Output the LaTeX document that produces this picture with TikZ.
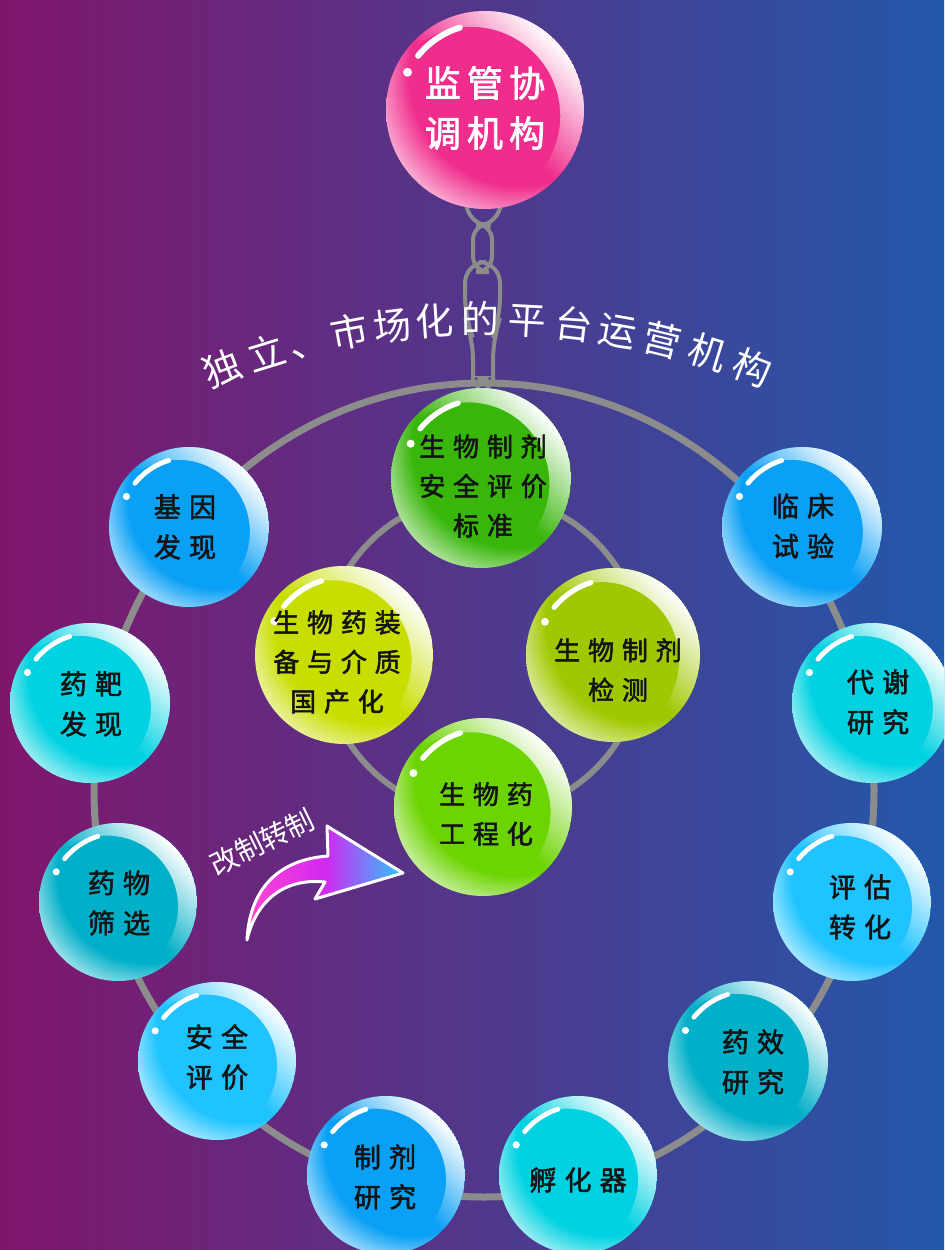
\documentclass[tikz,border=0pt]{standalone}
\usepackage{fontspec}
\usetikzlibrary{fadings,shadings}
\newfontfamily\cjkb[FakeBold=2]{Noto Sans CJK SC}
\newfontfamily\cjkr{Noto Sans CJK SC}
\tikzfading[name=glare, top color=transparent!0, bottom color=transparent!100, middle color=transparent!100]
\definecolor{bgL}{RGB}{128,22,108}
\definecolor{bgM}{RGB}{82,52,138}
\definecolor{bgR}{RGB}{35,88,170}
\definecolor{ringgray}{RGB}{140,140,140}
\definecolor{cPink}{RGB}{240,45,140}
\definecolor{cGreen}{RGB}{56,182,10}
\definecolor{cYel}{RGB}{200,222,0}
\definecolor{cOlive}{RGB}{160,200,0}
\definecolor{cLime}{RGB}{108,212,0}
\definecolor{cBlue}{RGB}{10,160,245}
\definecolor{cCyan}{RGB}{0,210,225}
\definecolor{cTeal}{RGB}{0,175,200}
\definecolor{cSky}{RGB}{30,195,255}
\definecolor{txt}{RGB}{20,20,20}
\newcommand\g{\hspace{0.3em}}
\newcommand\gp{\hspace{0.17em}}
\newcommand\gball[4]{%
\pgfdeclareradialshading{gb#4}{\pgfpoint{20bp}{20bp}}{color(0bp)=(#4); color(28bp)=(#4); color(35bp)=(#4!30!white); color(50bp)=(#4!30!white)}%
\begin{scope}[shift={(#1,#2)}]
 \shade[shading=gb#4] (0,0) circle[radius=#3];
 \begin{scope}
  \clip (0,0) circle[radius=#3];
  \fill[white, even odd rule, path fading=glare, fading angle=-45] (0,0) circle[radius=#3] ({-0.14*#3},{0.06*#3}) circle[radius={0.9*#3}];
 \end{scope}
 \draw[white, line cap=round, line width={0.0012cm*#3}] (-141:{0.87*#3}) arc[start angle=-141, end angle=-107, radius={0.87*#3}];
 \fill[white] (-154:{0.87*#3}) circle[radius={0.045*#3}];
\end{scope}}
\tikzset{
 chain/.style={draw=ringgray, line width=0.08cm},
 ring/.style={draw=ringgray, line width=0.14cm},
 outer/.style={align=center, inner sep=0pt, text=txt, font=\cjkb\fontsize{15.4}{22.8}\selectfont},
 inner/.style={align=center, inner sep=0pt, text=txt, font=\cjkb\fontsize{14.8}{22.5}\selectfont},
 arctext/.style={inner sep=0pt, text=white, text height=0.88em, text depth=0.12em, font=\cjkr\fontsize{21.6}{24}\selectfont}
}
\begin{document}
\begin{tikzpicture}[x=0.02cm, y=-0.02cm]
\clip (0,0) rectangle (944,1250);
\shade[left color=bgL, middle color=bgM, right color=bgR] (0,0) rectangle (944,1250);
% chain
\draw[chain, rounded corners=14] (466,170) -- (466,226) -- (501,226) -- (501,170);
\draw[chain, rounded corners=9] (473,224) rectangle (492,272);
\draw[chain, rounded corners=12] (473,386) -- (473,338) -- (465,318) -- (465,262) -- (500,262) -- (500,318) -- (493,338) -- (493,386);
\draw[chain, rounded corners=3] (478,378) rectangle (488,396);
% rings
\draw[ring] (484,790) ellipse[x radius=390, y radius=407];
\draw[ring, line width=0.12cm] (483,655) circle[radius=160];
% title on arc
\foreach \c/\a [count=\i] in {独/-20.8, 立/-17.2, 、/-13.9, 市/-10.6, 场/-7.3, 化/-4.0, 的/-0.5, 平/3.1, 台/6.7, 运/10.1, 营/13.6, 机/17.2, 构/20.8}
  \node[arctext, rotate=-\a] (t\i) at ({487+739*sin(\a)},{1066-739*cos(\a)}) {\c};
% arrow
\draw[white, line width=0.06cm, line join=round, left color={rgb,255:red,255;green,70;blue,210}, right color={rgb,255:red,40;green,200;blue,255}, middle color={rgb,255:red,210;green,40;blue,240}]
 (247,940) .. controls (249,896) and (272,860) .. (328,856) -- (327,826) -- (403,873) -- (315,899) -- (325,882) .. controls (288,878) and (257,897) .. (247,940) -- cycle;
\node[rotate=26, inner sep=0pt, text=white, font=\cjkr\fontsize{16}{18}\selectfont] (lbl) at (262,842) {改制转制};
% top ball
\gball{485}{110}{99}{cPink}
\node[align=center, inner sep=0pt, text=white, font=\cjkb\fontsize{20.5}{28.5}\selectfont] (top) at (485,108) {监\gp 管\gp 协\\调\gp 机\gp 构};
% inner balls
\gball{481}{478}{90}{cGreen}
\node[inner] (i1) at (483,486) {生\g 物\g 制\g 剂\\安\g 全\g 评\g 价\\标\g 准};
\gball{344}{655}{89}{cYel}
\node[inner] (i2) at (337,662) {生\g 物\g 药\g 装\\备\g 与\g 介\g 质\\国\g 产\g 化};
\gball{613}{655}{87}{cOlive}
\node[inner] (i3) at (618,670) {生\g 物\g 制\g 剂\\检\g 测};
\gball{483}{807}{89}{cLime}
\node[inner] (i4) at (486,814) {生\g 物\g 药\\工\g 程\g 化};
% outer balls
\gball{189}{527}{80}{cBlue}
\node[outer] (o1) at (185,527) {基\g 因\\发\g 现};
\gball{90}{703}{80}{cCyan}
\node[outer] (o2) at (91,704) {药\g 靶\\发\g 现};
\gball{118}{902}{79}{cTeal}
\node[outer] (o3) at (119,903) {药\g 物\\筛\g 选};
\gball{217}{1061}{79}{cSky}
\node[outer] (o4) at (217,1057) {安\g 全\\评\g 价};
\gball{386}{1175}{79}{cBlue}
\node[outer] (o5) at (385,1177) {制\g 剂\\研\g 究};
\gball{578}{1175}{79}{cCyan}
\node[outer] (o6) at (578,1180) {孵\g 化\g 器};
\gball{748}{1061}{80}{cTeal}
\node[outer] (o7) at (753,1062) {药\g 效\\研\g 究};
\gball{852}{902}{79}{cSky}
\node[outer] (o8) at (860,907) {评\g 估\\转\g 化};
\gball{872}{703}{80}{cCyan}
\node[outer] (o9) at (878,702) {代\g 谢\\研\g 究};
\gball{802}{527}{80}{cBlue}
\node[outer] (o10) at (803,526) {临\g 床\\试\g 验};
\end{tikzpicture}
\end{document}
